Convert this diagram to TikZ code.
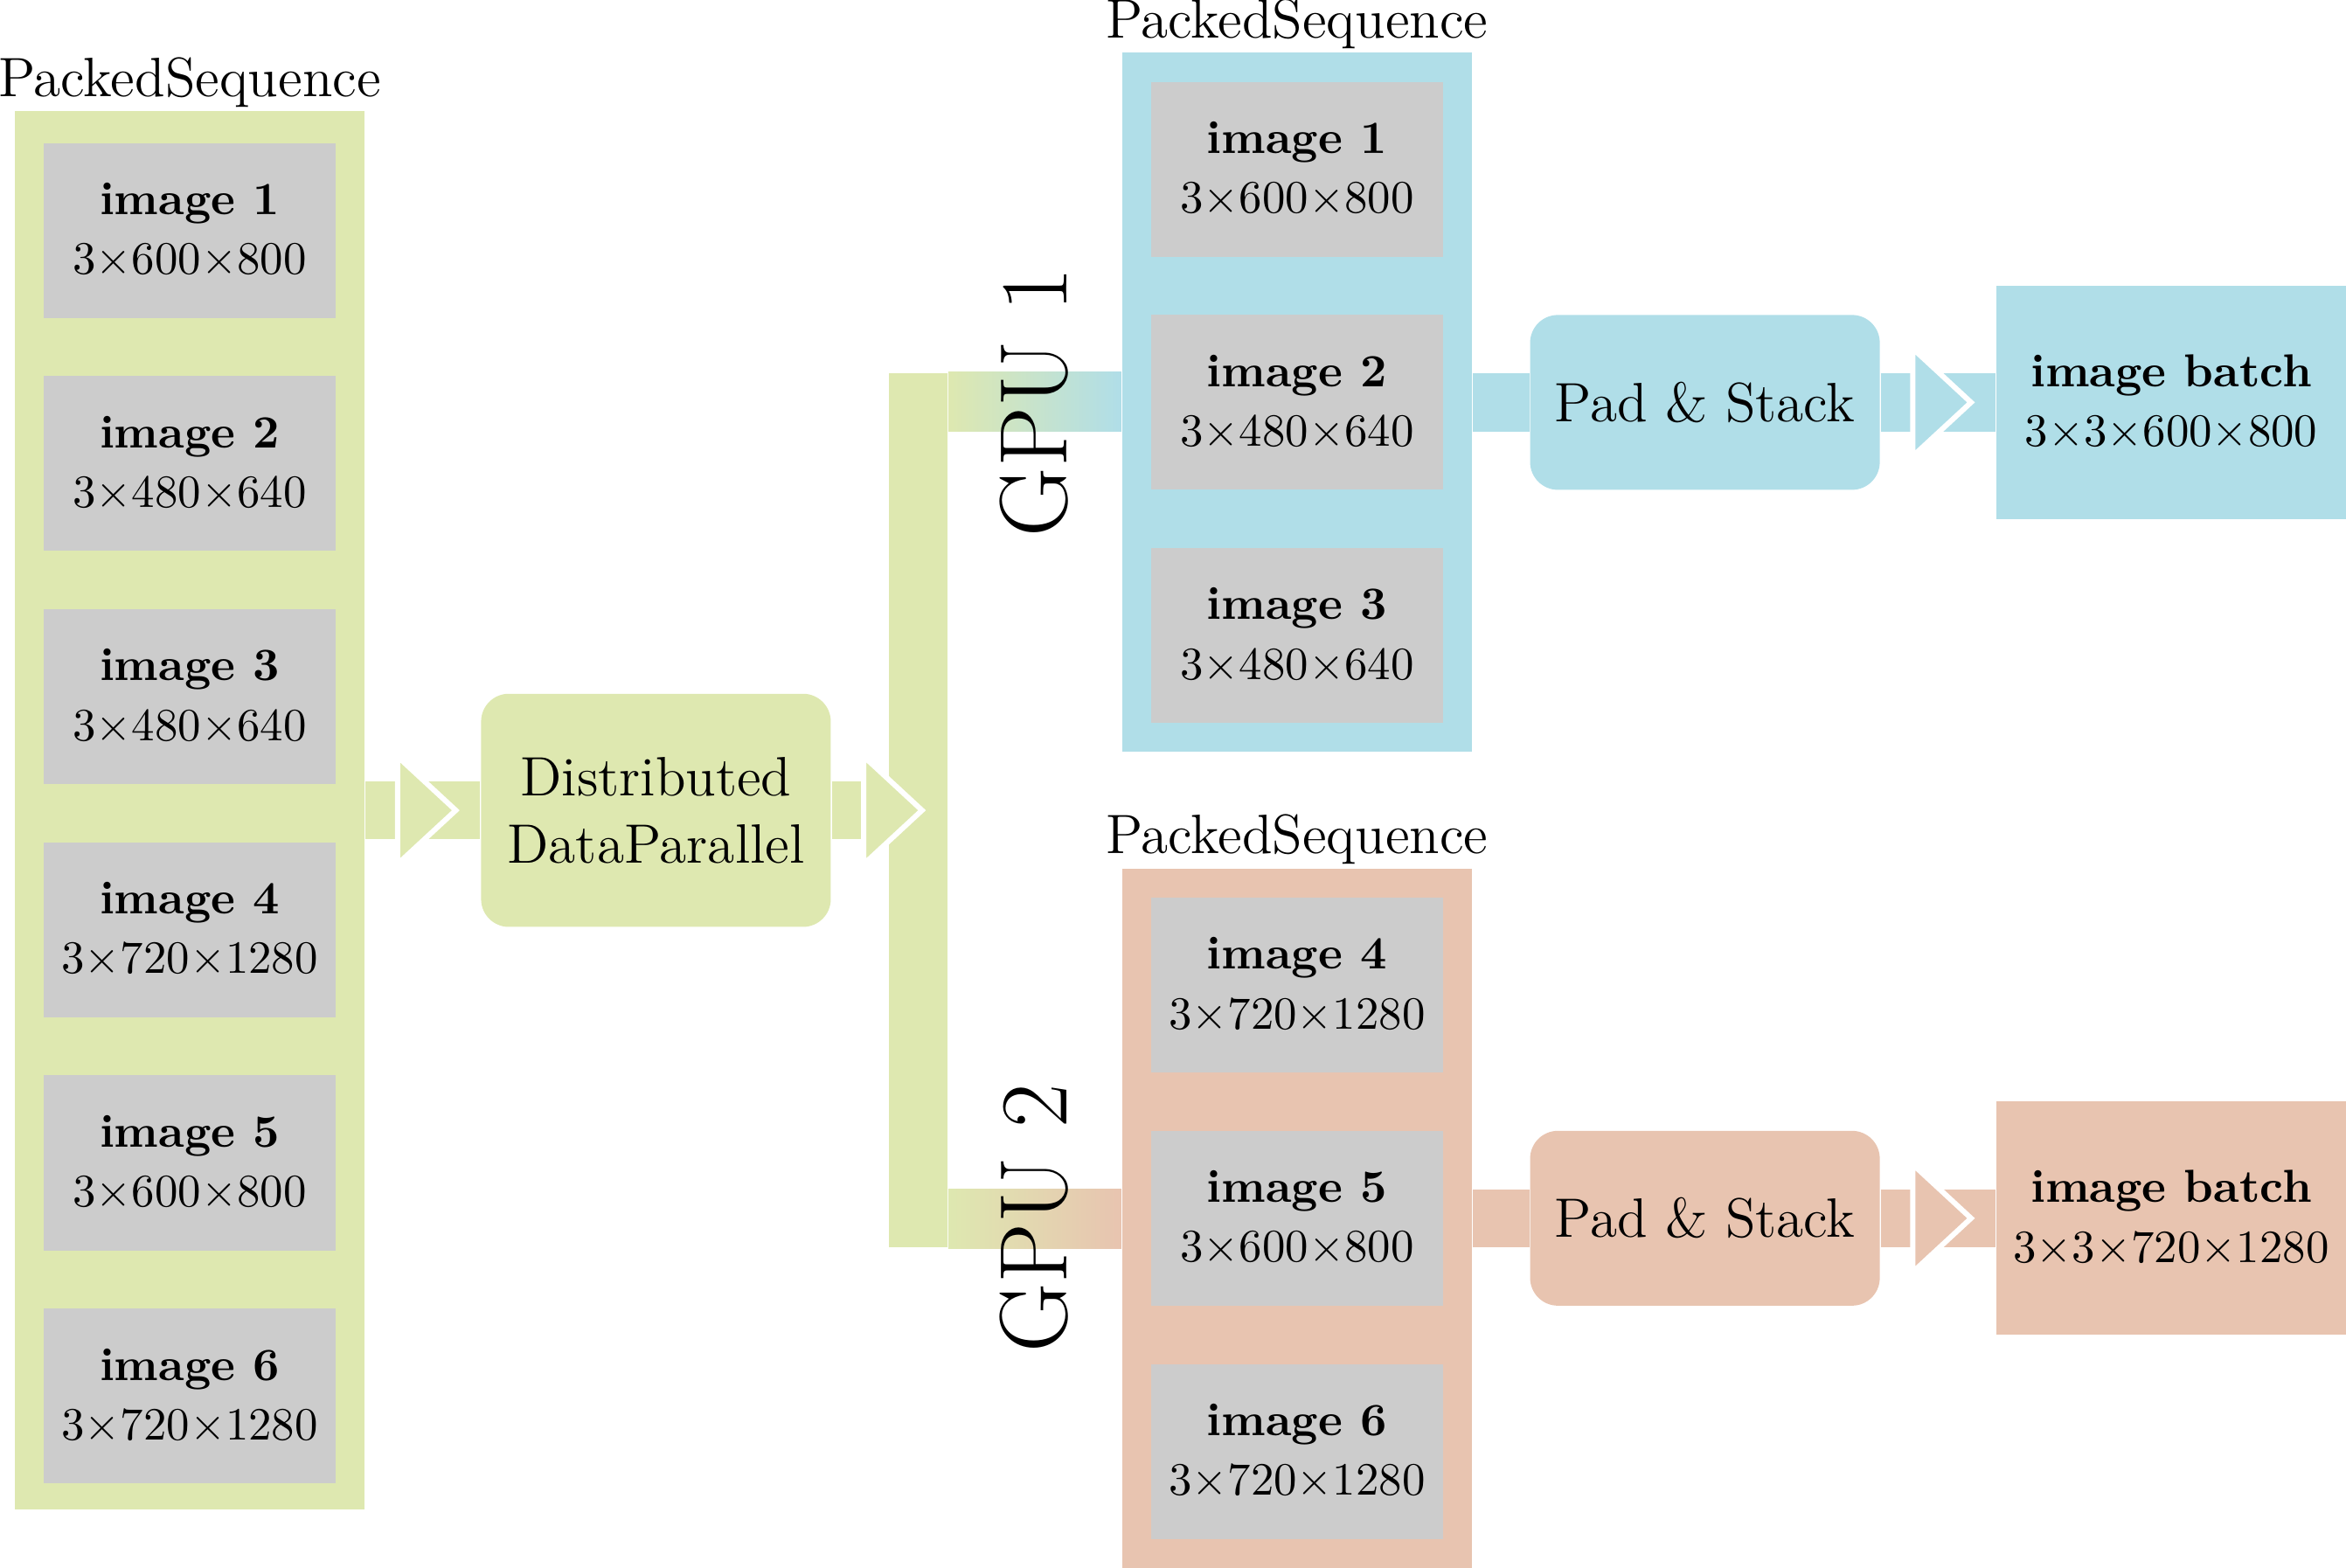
\documentclass[tikz,border=0pt]{standalone}
\definecolor{cgreen}{RGB}{222,232,176}
\definecolor{cblue}{RGB}{176,222,232}
\definecolor{cpeach}{RGB}{232,196,176}
\definecolor{cgray}{RGB}{204,204,204}
\newcommand\arrowhead[2]{%
  \filldraw[fill=#1, draw=white, line width=1.14pt, line join=miter]
    (#2) ++(1.1,1.85) -- ++(2,-1.85) -- ++(-2,-1.85) -- cycle;}
\newcommand\dimsA[3]{$#1{\times}#2{\times}#3$}
\tikzset{
  imgbox/.style={fill=cgray, inner sep=0pt, minimum width=63.07pt, minimum height=37.84pt, align=center},
  column/.style={fill=#1, inner sep=0pt, minimum width=75.68pt},
  procbox/.style={fill=#1, rounded corners=6pt, inner sep=0pt, minimum width=75.68pt, align=center, font=\large},
  batchbox/.style={fill=#1, inner sep=0pt, minimum width=75.68pt, minimum height=50.46pt, align=center},
  bar/.style={draw=#1, line width=12.61pt},
  seqlabel/.style={anchor=base, font=\large, inner sep=0pt},
  gpulabel/.style={rotate=90, anchor=base, font=\huge, inner sep=0pt},
}
\begin{document}
\begin{tikzpicture}[x=6.307pt, y=6.307pt]
\useasboundingbox (-0.51,3.81) rectangle (80.0,-50.0);

% input sequence
\node[column=cgreen, minimum height=302.74pt] (seq) at (6,-24) {};
\node[seqlabel] (seqlab) at (6,0.51) {PackedSequence};
\node[imgbox] (l1) at (6,-4.1)  {\textbf{image 1}\\[0.9pt]\dimsA{3}{600}{800}};
\node[imgbox] (l2) at (6,-12.1) {\textbf{image 2}\\[0.9pt]\dimsA{3}{480}{640}};
\node[imgbox] (l3) at (6,-20.1) {\textbf{image 3}\\[0.9pt]\dimsA{3}{480}{640}};
\node[imgbox] (l4) at (6,-28.1) {\textbf{image 4}\\[0.9pt]\dimsA{3}{720}{1280}};
\node[imgbox] (l5) at (6,-36.1) {\textbf{image 5}\\[0.9pt]\dimsA{3}{600}{800}};
\node[imgbox] (l6) at (6,-44.1) {\textbf{image 6}\\[0.9pt]\dimsA{3}{720}{1280}};

% DDP
\node[procbox=cgreen, minimum height=50.46pt] (ddp) at (22,-24) {Distributed\\[0.6pt]DataParallel};
\draw[bar=cgreen] (seq.east) -- (ddp.west);
\arrowhead{cgreen}{seq.east}

% fork
\node[fill=cgreen, inner sep=0pt, minimum width=12.61pt, minimum height=189.21pt] (fork) at (31,-24) {};
\draw[bar=cgreen] (ddp.east) -- (fork.center);
\arrowhead{cgreen}{ddp.east}

% GPU 1
\node[column=cblue, minimum height=151.37pt] (gpu1) at (44,-10) {};
\node[seqlabel] (g1lab) at (44,2.51) {PackedSequence};
\node[imgbox] (a1) at (44,-2)  {\textbf{image 1}\\[0.9pt]\dimsA{3}{600}{800}};
\node[imgbox] (a2) at (44,-10) {\textbf{image 2}\\[0.9pt]\dimsA{3}{480}{640}};
\node[imgbox] (a3) at (44,-18) {\textbf{image 3}\\[0.9pt]\dimsA{3}{480}{640}};
\shade[left color=cgreen, right color=cblue] (fork.north east) rectangle ([yshift=-6.307pt]gpu1.west);
\node[gpulabel] (gl1) at (36.1,-10) {GPU 1};
\node[procbox=cblue, minimum height=37.84pt] (pad1) at (58,-10) {Pad \& Stack};
\draw[bar=cblue] (gpu1.east) -- (pad1.west);
\node[batchbox=cblue] (b1) at (74,-10) {\textbf{image batch}\\[0.9pt]$3{\times}3{\times}600{\times}800$};
\draw[bar=cblue] (pad1.east) -- (b1.west);
\arrowhead{cblue}{pad1.east}

% GPU 2
\node[column=cpeach, minimum height=151.37pt] (gpu2) at (44,-38) {};
\node[seqlabel] (g2lab) at (44,-25.49) {PackedSequence};
\node[imgbox] (c4) at (44,-30) {\textbf{image 4}\\[0.9pt]\dimsA{3}{720}{1280}};
\node[imgbox] (c5) at (44,-38) {\textbf{image 5}\\[0.9pt]\dimsA{3}{600}{800}};
\node[imgbox] (c6) at (44,-46) {\textbf{image 6}\\[0.9pt]\dimsA{3}{720}{1280}};
\shade[left color=cgreen, right color=cpeach] (fork.south east) rectangle ([yshift=6.307pt]gpu2.west);
\node[gpulabel] (gl2) at (36.1,-38) {GPU 2};
\node[procbox=cpeach, minimum height=37.84pt] (pad2) at (58,-38) {Pad \& Stack};
\draw[bar=cpeach] (gpu2.east) -- (pad2.west);
\node[batchbox=cpeach] (b2) at (74,-38) {\textbf{image batch}\\[0.9pt]$3{\times}3{\times}720{\times}1280$};
\draw[bar=cpeach] (pad2.east) -- (b2.west);
\arrowhead{cpeach}{pad2.east}
\end{tikzpicture}
\end{document}
